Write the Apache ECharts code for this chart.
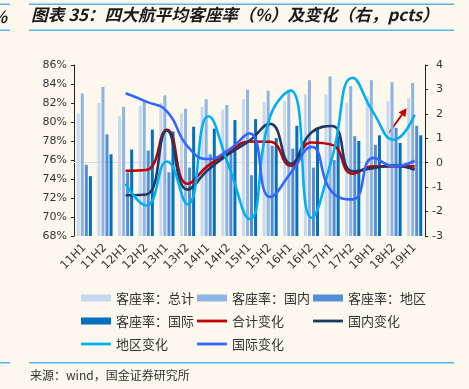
<!DOCTYPE html>
<html>
<head>
<meta charset="utf-8">
<script src="https://cdn.jsdelivr.net/npm/echarts@6/dist/echarts.min.js"></script>
<style>
html,body{margin:0;padding:0;background:#fdf8ee;}
#c{width:469px;height:389px;}
</style>
</head>
<body>
<div id="c"></div>
<script>
// ---- data ----
var categories = ['11H1','11H2','12H1','12H2','13H1','13H2','14H1','14H2','15H1','15H2','16H1','16H2','17H1','17H2','18H1','18H2','19H1'];
var loadTotal = [80.9, 82.0, 80.6, 81.7, 82.0, 80.9, 81.6, 81.3, 82.4, 82.1, 82.2, 82.9, 82.9, 82.0, 82.7, 82.2, 82.5];
var loadDomestic = [83.0, 83.7, 81.6, 82.3, 82.8, 81.4, 82.4, 81.8, 83.4, 83.3, 83.4, 84.4, 84.8, 83.8, 84.4, 84.2, 84.1];
var loadRegional = [75.5, 78.7, 74.7, 77.0, 74.7, 75.2, 76.6, 77.3, 74.4, 77.5, 77.2, 75.2, 76.0, 78.5, 77.6, 79.4, 79.6];
var loadIntl = [74.3, 76.6, 77.1, 79.2, 79.0, 79.5, 79.3, 80.2, 80.3, 78.3, 79.6, 79.4, 78.5, 78.0, 78.6, 77.8, 78.6];
var chgTotal = [null, null, -0.33, -0.3, 1.35, -0.86, -0.12, 0.4, 0.87, 0.86, -0.12, 0.83, 0.73, -0.45, -0.15, -0.15, -0.15];
var chgDomestic = [null, null, -1.33, -1.3, 1.32, -1.1, -0.29, 0.36, 0.9, 1.59, -0.04, 1.24, 1.5, -0.35, -0.22, -0.12, -0.29];
var chgRegional = [null, null, -0.86, -1.75, 0.05, -1.7, 1.9, -0.15, -2.3, 1.89, 2.95, -2.25, 0.2, 3.48, 2.05, 0.94, 1.96];
var chgIntl = [null, null, 2.84, 2.5, 2.1, 0.67, 0.15, 0.53, 1.2, -1.4, -0.42, 0.65, -1.2, -1.5, 0.2, -0.15, 0.08];
var leftTicks = {min: 68, max: 86, interval: 2};
var rightTicks = {min: -3, max: 4, interval: 1};
var names = ['客座率：总计','客座率：国内','客座率：地区','客座率：国际','合计变化','国内变化','地区变化','国际变化'];

var chart = echarts.init(document.getElementById('c'), null, {renderer: 'canvas'});
var FONT = 'DejaVu Sans';
var CJK = '"Noto Sans CJK SC", sans-serif';
var barColors = ['#c6d9f1', '#8db4e2', '#558ed5', '#0070c0'];
var lineColors = ['#c00000', '#1f3864', '#00b0f0', '#3366ff'];
var barData = [loadTotal, loadDomestic, loadRegional, loadIntl];
var lineData = [chgTotal, chgDomestic, chgRegional, chgIntl];

var series = [];
barData.forEach(function (d, i) {
  series.push({
    name: names[i], type: 'bar', yAxisIndex: 0, data: d,
    barWidth: 3, barGap: '35%',
    itemStyle: {color: barColors[i]}, silent: true
  });
});
lineData.forEach(function (d, i) {
  series.push({
    name: names[4 + i], type: 'line', yAxisIndex: 1, data: d,
    smooth: 0.5, symbol: 'none', showSymbol: false,
    lineStyle: {color: lineColors[i], width: 2.6},
    itemStyle: {color: lineColors[i]}, silent: true
  });
});

function legendCol(left, items) {
  return {
    orient: 'vertical', left: left, top: 286.5, itemGap: 10,
    itemWidth: 30, itemHeight: 7, selectedMode: false, symbolKeepAspect: true,
    textStyle: {fontFamily: CJK, fontSize: 13, color: '#333'},
    data: items.map(function (n) {
      var idx = names.indexOf(n);
      return idx < 4 ? {name: n, icon: 'rect'} : {name: n, icon: 'path://M0,0H30V2.8H0Z', itemStyle: {color: lineColors[idx - 4]}};
    })
  };
}

var titleLine = '#56b6e6';
chart.setOption({
  backgroundColor: '#fdf8ee',
  animation: false,
  grid: {left: 74, right: 44, top: 65, bottom: 153},
  legend: [
    legendCol(76, [names[0], names[3], names[6]]),
    legendCol(192, [names[1], names[4], names[7]]),
    legendCol(308, [names[2], names[5]])
  ],
  xAxis: {
    type: 'category', data: categories, boundaryGap: true,
    axisLine: {lineStyle: {color: '#d9d9d9', width: 1}},
    axisTick: {show: false},
    axisLabel: {rotate: 45, fontFamily: FONT, fontSize: 11.5, color: '#333', margin: 10, interval: 0}
  },
  yAxis: [
    {
      type: 'value', min: leftTicks.min, max: leftTicks.max, interval: leftTicks.interval,
      axisLine: {show: true, lineStyle: {color: '#222', width: 1}},
      axisTick: {show: true, length: 3, lineStyle: {color: '#222'}},
      splitLine: {show: false},
      axisLabel: {formatter: '{value}%', fontFamily: FONT, fontSize: 11, color: '#333', margin: 7}
    },
    {
      type: 'value', min: rightTicks.min, max: rightTicks.max, interval: rightTicks.interval,
      position: 'right',
      axisLine: {show: true, lineStyle: {color: '#222', width: 1}},
      axisTick: {show: true, length: 3, lineStyle: {color: '#222'}},
      splitLine: {show: false},
      axisLabel: {fontFamily: FONT, fontSize: 11, color: '#333', margin: 18, align: 'right'}
    }
  ],
  series: series,
  graphic: [
    {type: 'rect', shape: {x: 29, y: 3.5, width: 425, height: 1.5}, style: {fill: titleLine}},
    {type: 'rect', shape: {x: 29, y: 29.5, width: 425, height: 1.5}, style: {fill: titleLine}},
    {type: 'rect', shape: {x: 0, y: 3.5, width: 10, height: 1.5}, style: {fill: titleLine}},
    {type: 'rect', shape: {x: 0, y: 29.5, width: 10, height: 1.5}, style: {fill: titleLine}},
    {type: 'text', left: -9, top: 8, style: {text: '%', fontFamily: CJK, fontSize: 16.7, fontWeight: 'bold', fontStyle: 'italic', fill: '#222'}},
    {type: 'text', left: 31, top: 6.5, style: {text: '图表 35：四大航平均客座率（%）及变化（右，pcts）', fontFamily: CJK, fontSize: 16.7, fontWeight: 'bold', fontStyle: 'italic', fill: '#1a1a1a'}},
    {type: 'rect', shape: {x: 29, y: 362, width: 425, height: 1.5}, style: {fill: titleLine}},
    {type: 'rect', shape: {x: 0, y: 362, width: 10, height: 1.5}, style: {fill: titleLine}},
    {type: 'text', left: 30, top: 369, style: {text: '来源：wind，国金证券研究所', fontFamily: CJK, fontSize: 12, fill: '#333'}},
    {type: 'line', shape: {x1: 387.3, y1: 135, x2: 402, y2: 114.6}, style: {stroke: '#c00000', lineWidth: 1.8}},
    {type: 'polygon', shape: {points: [[406.7, 108.3], [405.3, 117.2], [398.6, 112.2]]}, style: {fill: '#c00000'}}
  ]
});
</script>
</body>
</html>
